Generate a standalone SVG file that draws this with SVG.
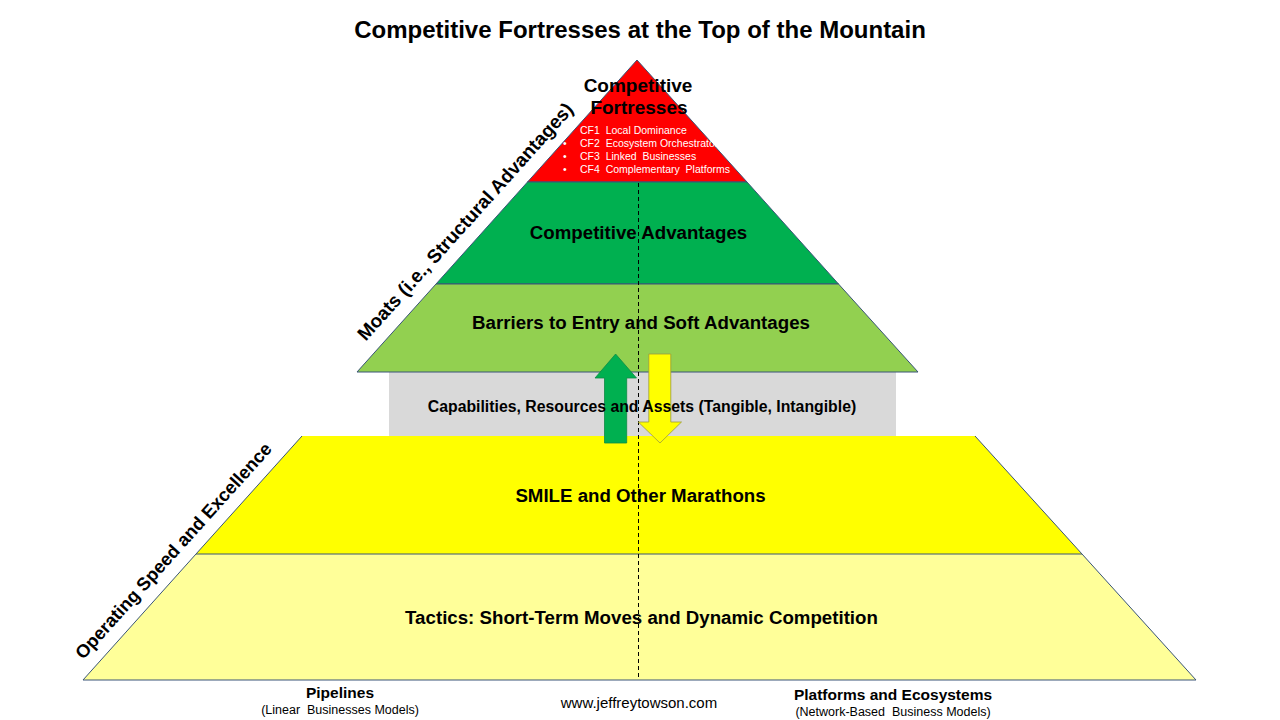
<svg xmlns="http://www.w3.org/2000/svg" width="1280" height="720" viewBox="0 0 1280 720">
  <style>
    .edge { stroke: #3A5578; stroke-width: 1; }
    .lbl { font-family: "Liberation Sans", Arial, sans-serif; font-weight: bold; fill: #000; text-anchor: middle; }
    .sm { font-family: "Liberation Sans", Arial, sans-serif; fill: #000; text-anchor: middle; }
    .bul { font-family: "Liberation Sans", Arial, sans-serif; fill: #fff; font-size: 10.5px; }
  </style>
  <rect width="1280" height="720" fill="#ffffff"/>

  <text class="lbl" x="640" y="38" font-size="24">Competitive Fortresses at the Top of the Mountain</text>

  <g id="capabilities">
    <rect x="389" y="372" width="507" height="64" fill="#D9D9D9"/>
  </g>

  <g id="competitive-fortresses">
    <polygon class="edge" points="637,60 747,182 527.5,182" fill="#FF0000"/>
  </g>
  <g id="competitive-advantages">
    <polygon class="edge" points="527.5,182 747,182 838.5,284 436,284" fill="#00B050"/>
  </g>
  <g id="barriers">
    <polygon class="edge" points="436,284 838.5,284 918,372 357,372" fill="#92D050"/>
  </g>
  <g id="smile">
    <polygon points="302,436 975,436 1082,554 196,554" fill="#FFFF00"/>
    <polyline class="edge" fill="none" points="196,554 302,436"/>
    <polyline class="edge" fill="none" points="975,436 1082,554"/>
  </g>
  <g id="tactics">
    <polygon class="edge" points="196,554 1082,554 1196,680 83,680" fill="#FFFF99"/>
  </g>

  <g id="connectors">
    <line x1="638.5" y1="183" x2="638.5" y2="680" stroke="#000" stroke-width="1" stroke-dasharray="4,3"/>
    <polygon points="604.5,443 626.7,443 626.7,378 636.5,378 615.6,354 595,378 604.5,378" fill="#00B050" stroke="#0E8A45" stroke-width="0.8"/>
    <polygon points="648.8,354 670.8,354 670.8,422 681.5,422 660,443 638.3,422 648.8,422" fill="#FFFF00" stroke="#9A9A40" stroke-width="0.8"/>
  </g>

  <g id="texts">
    <text class="lbl" x="638" y="92" font-size="19">Competitive</text>
    <text class="lbl" x="639" y="114" font-size="19">Fortresses</text>
    <text class="bul" x="580" y="134" xml:space="preserve">CF1  Local Dominance</text>
    <text class="bul" x="563" y="147">•</text>
    <text class="bul" x="580" y="147" xml:space="preserve">CF2  Ecosystem Orchestrator</text>
    <text class="bul" x="563" y="160">•</text>
    <text class="bul" x="580" y="160" xml:space="preserve">CF3  Linked  Businesses</text>
    <text class="bul" x="563" y="173">•</text>
    <text class="bul" x="580" y="173" xml:space="preserve">CF4  Complementary  Platforms</text>

    <text class="lbl" x="638.5" y="239" font-size="18.7">Competitive Advantages</text>
    <text class="lbl" x="641" y="329" font-size="18.7">Barriers to Entry and Soft Advantages</text>
    <text class="lbl" x="642" y="412" font-size="15.8">Capabilities, Resources and Assets (Tangible, Intangible)</text>
    <text class="lbl" x="640.5" y="502" font-size="18.7">SMILE and Other Marathons</text>
    <text class="lbl" x="641.5" y="624" font-size="18.7">Tactics: Short-Term Moves and Dynamic Competition</text>

    <text class="lbl" font-size="19" transform="translate(470,226) rotate(-48)">Moats (i.e., Structural Advantages)</text>
    <text class="lbl" font-size="18.3" transform="translate(178,555) rotate(-48)">Operating Speed and Excellence</text>

    <text class="lbl" x="340" y="698" font-size="15.5">Pipelines</text>
    <text class="sm" x="340" y="714" font-size="12.5" xml:space="preserve">(Linear  Businesses Models)</text>
    <text class="sm" x="639" y="708" font-size="15">www.jeffreytowson.com</text>
    <text class="lbl" x="893" y="700" font-size="15.5">Platforms and Ecosystems</text>
    <text class="sm" x="893" y="716" font-size="12.5" xml:space="preserve">(Network-Based  Business Models)</text>
  </g>
</svg>
